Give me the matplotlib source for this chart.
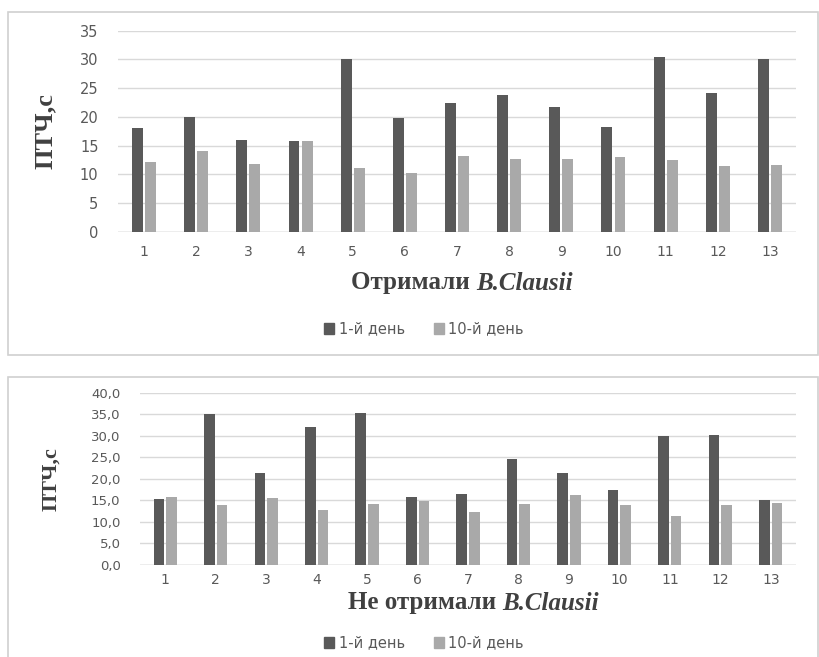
import matplotlib.pyplot as plt
import numpy as np
from matplotlib.patches import Rectangle

# ПТЧ, с — дві групи по 13 тварин
animals = [str(i) for i in range(1, 14)]
got_day1 = [18.1, 20.0, 16.0, 15.9, 30.0, 19.8, 22.4, 23.8, 21.8, 18.3, 30.4, 24.2, 30.0]
got_day10 = [12.2, 14.0, 11.8, 15.9, 11.2, 10.3, 13.2, 12.7, 12.7, 13.1, 12.5, 11.4, 11.6]
not_day1 = [15.4, 35.0, 21.4, 32.0, 35.2, 15.9, 16.4, 24.7, 21.3, 17.3, 29.9, 30.2, 15.1]
not_day10 = [15.7, 13.9, 15.5, 12.7, 14.2, 14.9, 12.3, 14.2, 16.3, 13.9, 11.3, 13.9, 14.3]
legend_labels = ['1-й день', '10-й день']

dark = '#595959'
light = '#a9a9a9'
grid_c = '#d9d9d9'
tick_c = '#595959'
title_c = '#404040'

fig = plt.figure(figsize=(8.19, 6.57), dpi=100)
W, H = 819, 657

# рамки панелей
for (x0, y0, x1, y1) in [(8, 12, 818, 355), (8, 377, 818, 660)]:
    fig.patches.append(Rectangle((x0 / W, 1 - y1 / H), (x1 - x0) / W, (y1 - y0) / H,
                                 transform=fig.transFigure, fill=False,
                                 edgecolor='#d0d0d0', linewidth=1.2))


def draw(ax, d1, d10, ymax, labels, ylab_size, ysize):
    x = np.arange(len(animals))
    w = 0.21
    ax.bar(x - 0.125, d1, w, color=dark, zorder=3)
    ax.bar(x + 0.125, d10, w, color=light, zorder=3)
    ax.set_xlim(-0.5, len(animals) - 0.5)
    ax.set_ylim(0, ymax)
    ax.set_yticks(np.arange(0, ymax + 1, 5))
    ax.set_yticklabels(labels)
    ax.set_xticks(x)
    ax.set_xticklabels(animals)
    ax.tick_params(length=0, colors=tick_c, labelsize=10)
    ax.tick_params(axis='y', pad=14, labelsize=ysize)
    ax.tick_params(axis='x', pad=9)
    for s in ax.spines.values():
        s.set_visible(False)
    ax.yaxis.grid(True, color=grid_c, linewidth=1, zorder=0)
    ax.axhline(0, color='#c8c8c8', linewidth=1, zorder=2)
    ax.set_ylabel('ПТЧ,с', family='Liberation Serif', fontweight='bold',
                  fontsize=ylab_size, color=title_c)


ax1 = fig.add_axes([118 / W, 1 - 232 / H, (796 - 118) / W, (232 - 30.7) / H])
draw(ax1, got_day1, got_day10, 35, [str(t) for t in range(0, 36, 5)], 19, 10.5)
ax1.yaxis.set_label_coords(-0.09, 0.5)

ax2 = fig.add_axes([140 / W, 1 - 565 / H, (796 - 140) / W, (565 - 392.7) / H])
draw(ax2, not_day1, not_day10, 40, [f'{t:.1f}'.replace('.', ',') for t in range(0, 41, 5)],
     16, 9.5)
ax2.tick_params(axis='x', pad=6)
ax2.yaxis.set_label_coords(-0.12, 0.5)


# підпис осі X: звичайна частина + курсивна назва штаму
def xlabel(cx, cy, first, second, size):
    kw = dict(family='Liberation Serif', fontweight='bold', fontsize=size,
              color=title_c, va='center', ha='left')
    t1 = fig.text(0, cy / H, first, **kw)
    t2 = fig.text(0, cy / H, second, style='italic', **kw)
    r = fig.canvas.get_renderer()
    w1 = t1.get_window_extent(r).width
    w2 = t2.get_window_extent(r).width
    left = cx - (w1 + w2) / 2
    t1.set_x(left / W)
    t2.set_x((left + w1) / W)


xlabel(462, H - 283, 'Отримали ', 'B.Clausii', 18)
xlabel(473, H - 603, 'Не отримали ', 'B.Clausii', 18)

# легенди
for y in (329, 643):
    handles = [Rectangle((0, 0), 1, 1, color=dark), Rectangle((0, 0), 1, 1, color=light)]
    fig.legend(handles, legend_labels, loc='center', bbox_to_anchor=(424 / W, 1 - y / H),
               ncol=2, frameon=False, fontsize=10.5, handlelength=0.7, handleheight=0.7,
               handletextpad=0.3, columnspacing=2.0, labelcolor=tick_c)

fig.savefig('out.png', dpi=100)
